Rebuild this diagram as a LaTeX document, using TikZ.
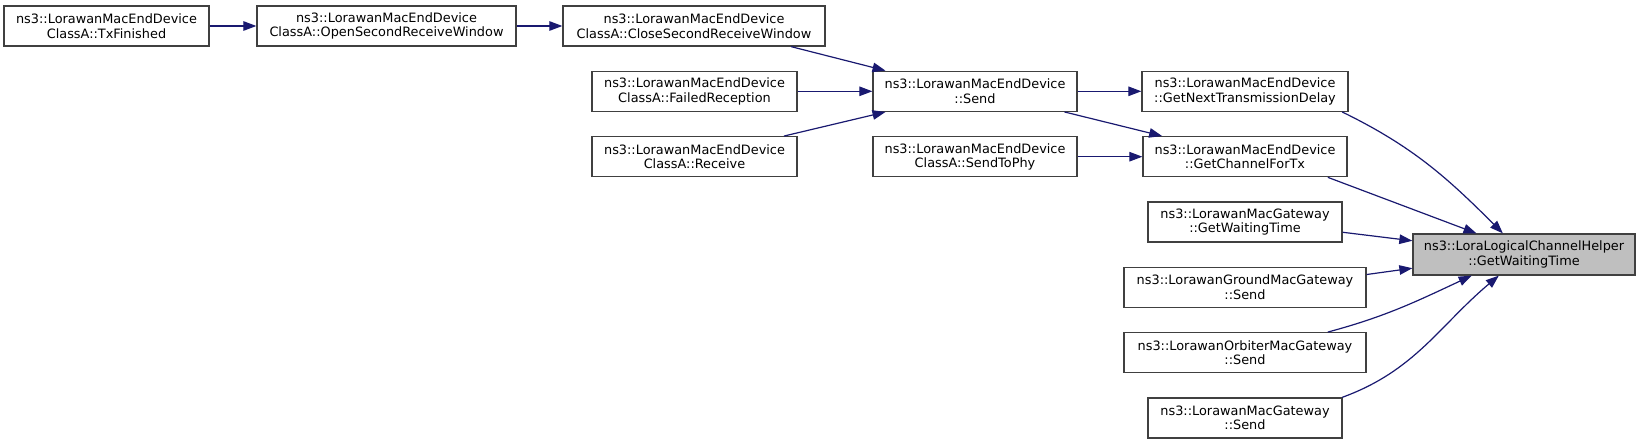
\documentclass[tikz,border=0pt]{standalone}
\usepackage{fontspec}
\setmainfont{DejaVu Sans}
\usetikzlibrary{arrows.meta}
\definecolor{edgeblue}{HTML}{191970}
\definecolor{boxline}{HTML}{404040}

\begin{document}
\begin{tikzpicture}[x=1pt,y=1pt,
    fn/.style={draw=boxline, line width=1.3pt, fill=white, minimum height=40pt, inner sep=0pt, align=center, font=\fontsize{12.87}{14.5}\selectfont},
    root/.style={fn, fill=black!25, minimum height=41pt},
    call/.style={draw=edgeblue, line width=1.2pt, -{Triangle[length=13pt,width=9.5pt]}}]
        \useasboundingbox (0,0) rectangle (1641,-444);
        % Callers, left part
        \node[fn, minimum width=205pt] (txfin) at (106.5,-26) {ns3::LorawanMacEndDevice\\ClassA::TxFinished};
        \node[fn, minimum width=259pt] (openrx2) at (386.5,-26) {ns3::LorawanMacEndDevice\\ClassA::OpenSecondReceiveWindow};
        \node[fn, minimum width=262pt] (closerx2) at (694,-26) {ns3::LorawanMacEndDevice\\ClassA::CloseSecondReceiveWindow};
        \node[fn, minimum width=205pt] (failedrx) at (694.5,-91.3) {ns3::LorawanMacEndDevice\\ClassA::FailedReception};
        \node[fn, minimum width=205pt] (receive) at (694.5,-156.7) {ns3::LorawanMacEndDevice\\ClassA::Receive};
        \node[fn, minimum width=204pt] (send) at (975,-91.3) {ns3::LorawanMacEndDevice\\::Send};
        \node[fn, minimum width=204pt] (sendphy) at (975,-156.7) {ns3::LorawanMacEndDevice\\ClassA::SendToPhy};
        % Direct callers
        \node[fn, minimum width=206pt] (nextdelay) at (1245,-91.3) {ns3::LorawanMacEndDevice\\::GetNextTransmissionDelay};
        \node[fn, minimum width=204pt] (chantx) at (1245,-156.7) {ns3::LorawanMacEndDevice\\::GetChannelForTx};
        \node[fn, minimum width=194pt] (gwwait) at (1245,-222) {ns3::LorawanMacGateway\\::GetWaitingTime};
        \node[fn, minimum width=242pt] (groundsend) at (1245,-287.3) {ns3::LorawanGroundMacGateway\\::Send};
        \node[fn, minimum width=242pt] (orbitsend) at (1245,-352.7) {ns3::LorawanOrbiterMacGateway\\::Send};
        \node[fn, minimum width=194pt] (gwsend) at (1245,-418) {ns3::LorawanMacGateway\\::Send};
        % Function itself
        \node[root, minimum width=222pt] (waiting) at (1524,-254.5) {ns3::LoraLogicalChannelHelper\\::GetWaitingTime};

        \draw[call] (txfin) -- (openrx2);
        \draw[call] (openrx2) -- (closerx2);
        \draw[call] (closerx2.-12.8) -- (send.167);
        \draw[call] (failedrx) -- (send);
        \draw[call] (receive.13.3) -- (send.193);
        \draw[call] (send) -- (nextdelay);
        \draw[call] (send.-13.5) -- (chantx.166.4);
        \draw[call] (sendphy) -- (chantx);
        \draw[call] (nextdelay.-12.5) to[out=-26,in=135] (waiting.135.7);
        \draw[call] (chantx.-14.4) -- (waiting.156.4);
        \draw[call] (gwwait.-6.5) -- (waiting.173.6);
        \draw[call] (groundsend.6.6) -- (waiting.187);
        \draw[call] (orbitsend.14.2) to[out=15,in=205] (waiting.202.7);
        \draw[call] (gwsend.12.1) to[out=20,in=220] (waiting.220.5);
    \end{tikzpicture}
\end{document}
